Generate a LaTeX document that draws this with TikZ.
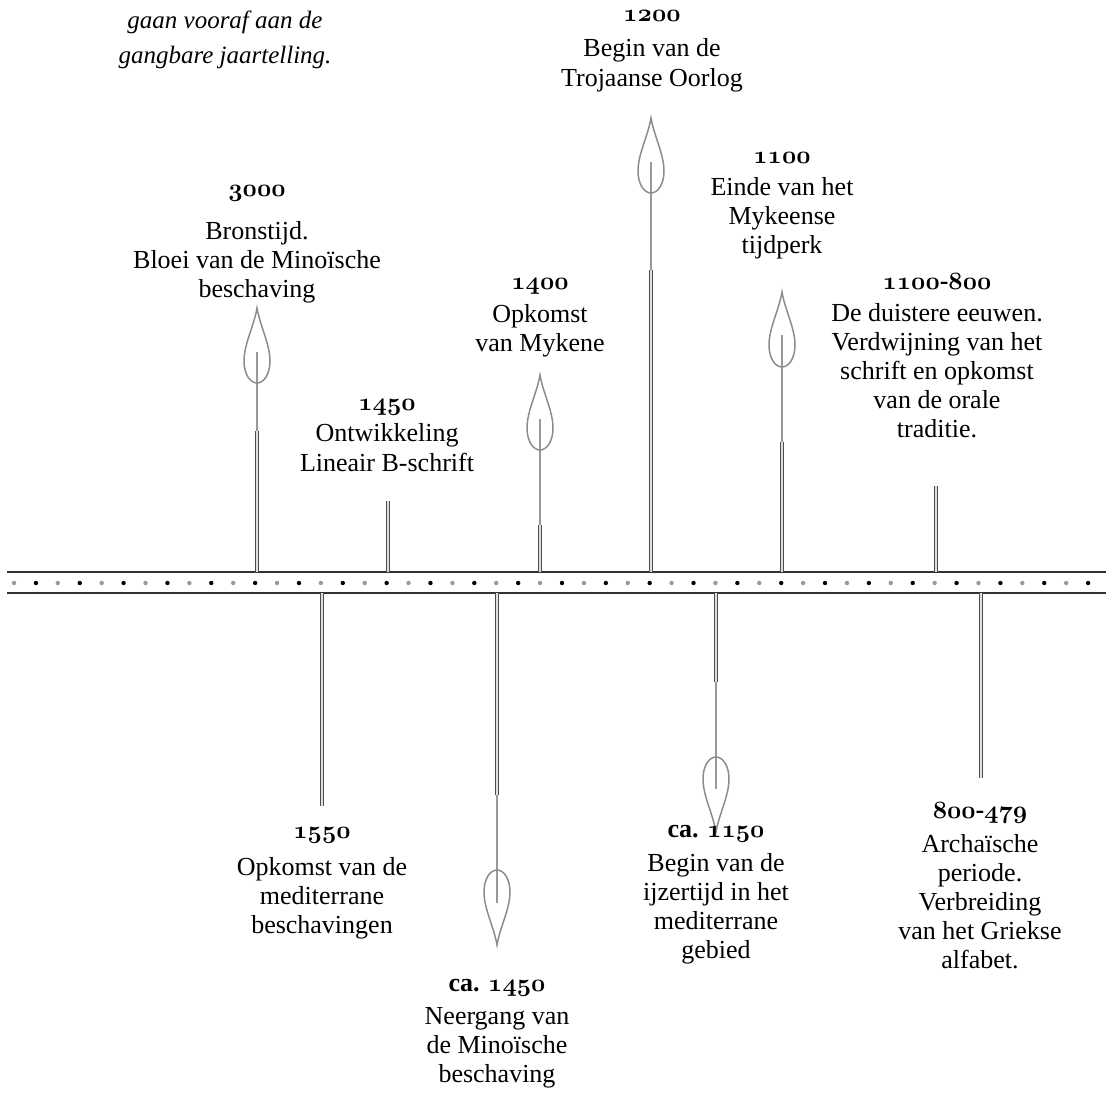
\documentclass[tikz,border=0pt]{standalone}
\usepackage{fontspec}
\setmainfont{Liberation Serif}
\newcommand\yr[1]{{\fontencoding{OML}\fontfamily{cmm}\fontseries{b}\fontshape{it}\fontsize{24.88}{29}\selectfont #1}}
\newcommand\flameup[2]{%
  \draw[flame] (#1,#2) .. controls ({#1+3},{#2+18}) and ({#1+13},{#2+36}) .. ({#1+13},{#2+53})
    .. controls ({#1+13},{#2+66}) and ({#1+7},{#2+75}) .. (#1,{#2+75})
    .. controls ({#1-7},{#2+75}) and ({#1-13},{#2+66}) .. ({#1-13},{#2+53})
    .. controls ({#1-13},{#2+36}) and ({#1-3},{#2+18}) .. (#1,#2) -- cycle;}
\newcommand\flamedn[2]{%
  \draw[flame] (#1,{#2+75}) .. controls ({#1+3},{#2+57}) and ({#1+13},{#2+39}) .. ({#1+13},{#2+22})
    .. controls ({#1+13},{#2+9}) and ({#1+7},#2) .. (#1,#2)
    .. controls ({#1-7},#2) and ({#1-13},{#2+9}) .. ({#1-13},{#2+22})
    .. controls ({#1-13},{#2+39}) and ({#1-3},{#2+57}) .. (#1,{#2+75}) -- cycle;}
\tikzset{
  band/.style={line width=1.8pt, draw=black!80},
  dotg/.style={fill=black!40},
  dotb/.style={fill=black},
  stemdbl/.style={draw=black!70, double=black!12, double distance=1.2pt, line width=1.2pt},
  stemthin/.style={draw=black!40, line width=1.2pt},
  flame/.style={draw=black!45, line width=1.5pt},
  lbl/.style={font=\fontsize{26}{29}\selectfont, align=center, inner sep=0pt, anchor=north},
}
\begin{document}
\begin{tikzpicture}[x=1pt,y=-1pt]
\useasboundingbox (0,0) rectangle (1106,1100);
% band
\coordinate (bandTL) at (7,572);
\coordinate (bandTR) at (1106,572);
\coordinate (bandBL) at (7,593);
\coordinate (bandBR) at (1106,593);
\draw[band] (bandTL) -- (bandTR);
\draw[band] (bandBL) -- (bandBR);
\foreach \k in {0,...,49}{%
  \ifodd\k \fill[dotb] ({14+21.92*\k},583) circle[radius=2.2pt];%
  \else \fill[dotg] ({14+21.92*\k},583) circle[radius=2.2pt];\fi}
% upward stems
\coordinate (a3000) at (257,572); \coordinate (b3000) at (257,431); \coordinate (c3000) at (257,352);
\coordinate (a1450) at (388,572); \coordinate (b1450) at (388,501);
\coordinate (a1400) at (540,572); \coordinate (b1400) at (540,525); \coordinate (c1400) at (540,419);
\coordinate (a1200) at (651,572); \coordinate (b1200) at (651,270); \coordinate (c1200) at (651,162);
\coordinate (a1100) at (782,572); \coordinate (b1100) at (782,442); \coordinate (c1100) at (782,335);
\coordinate (a1100800) at (936,572); \coordinate (b1100800) at (936,486);
\draw[stemthin] (b3000) -- (c3000);
\draw[stemthin] (b1400) -- (c1400);
\draw[stemthin] (b1200) -- (c1200);
\draw[stemthin] (b1100) -- (c1100);
\draw[stemdbl] (a3000) -- (b3000);
\draw[stemdbl] (a1450) -- (b1450);
\draw[stemdbl] (a1400) -- (b1400);
\draw[stemdbl] (a1200) -- (b1200);
\draw[stemdbl] (a1100) -- (b1100);
\draw[stemdbl] (a1100800) -- (b1100800);
\flameup{257}{308}
\flameup{540}{375}
\flameup{651}{118}
\flameup{782}{292}
% downward stems
\coordinate (a1550) at (322,593); \coordinate (b1550) at (322,806);
\coordinate (aca1450) at (497,593); \coordinate (bca1450) at (497,795); \coordinate (cca1450) at (497,903);
\coordinate (aca1150) at (716,593); \coordinate (bca1150) at (716,682); \coordinate (cca1150) at (716,789);
\coordinate (a800479) at (981,593); \coordinate (b800479) at (981,778);
\draw[stemthin] (bca1450) -- (cca1450);
\draw[stemthin] (bca1150) -- (cca1150);
\draw[stemdbl] (a1550) -- (b1550);
\draw[stemdbl] (aca1450) -- (bca1450);
\draw[stemdbl] (aca1150) -- (bca1150);
\draw[stemdbl] (a800479) -- (b800479);
\flamedn{497}{870}
\flamedn{716}{757}
% labels
\node[lbl, font=\fontsize{25}{35}\selectfont\itshape] (note) at (225,3.5) {\strut gaan vooraf aan de\\gangbare jaartelling.};
\node[lbl] (t1200) at (652,0.7) {\strut\yr{1200}\\[6pt]Begin van de\\[1pt]Trojaanse Oorlog};
\node[lbl] (t1100) at (782,142.7) {\strut\yr{1100}\\[3pt]Einde van het\\Mykeense\\tijdperk};
\node[lbl] (t3000) at (257,175.7) {\strut\yr{3000}\\[14pt]Bronstijd.\\Bloei van de Minoïsche\\beschaving};
\node[lbl] (t1400) at (540,268.7) {\strut\yr{1400}\\[4pt]Opkomst\\van Mykene};
\node[lbl] (t1100800) at (937,268.7) {\strut\yr{1100}\textbf{-}\yr{800}\\[3pt]De duistere eeuwen.\\Verdwijning van het\\schrift en opkomst\\van de orale\\traditie.};
\node[lbl] (t1450) at (387,389.7) {\strut\yr{1450}\\[2pt]Ontwikkeling\\[1pt]Lineair B-schrift};
\node[lbl] (t1550) at (322,817.7) {\strut\yr{1550}\\[8pt]Opkomst van de\\mediterrane\\beschavingen};
\node[lbl] (tca1450) at (497,970.7) {\strut\textbf{ca.} \yr{1450}\\[4pt]Neergang van\\de Minoïsche\\beschaving};
\node[lbl] (tca1150) at (716,816.7) {\strut\textbf{ca.} \yr{1150}\\[5pt]Begin van de\\ijzertijd in het\\mediterrane\\gebied};
\node[lbl] (t800479) at (980,797.7) {\strut\yr{800}\textbf{-}\yr{479}\\[5pt]Archaïsche\\periode.\\Verbreiding\\van het Griekse\\alfabet.};
\end{tikzpicture}
\end{document}
